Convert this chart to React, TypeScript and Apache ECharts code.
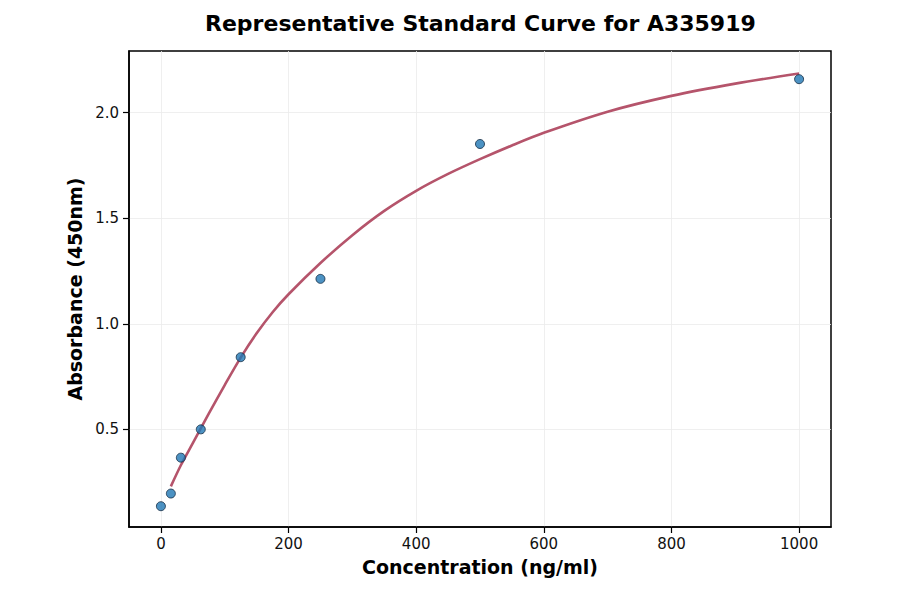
import { useEffect, useRef } from "react";
import * as echarts from "echarts";

// Standards measured (ng/ml) and their absorbance at 450nm
const concentrations = [0, 15.6, 31.25, 62.5, 125, 250, 500, 1000];
const absorbances = [0.136, 0.196, 0.366, 0.5, 0.842, 1.213, 1.852, 2.159];

// Fitted curve
const curveX = [15.6, 31.25, 50, 75, 100, 125, 150, 175, 200, 250, 300, 350, 400, 450, 500, 550, 600, 700, 800, 900, 1000];
const curveY = [0.23, 0.33, 0.435, 0.575, 0.71, 0.84, 0.955, 1.055, 1.14, 1.288, 1.42, 1.535, 1.63, 1.71, 1.78, 1.845, 1.905, 2.005, 2.08, 2.138, 2.186];

const xTicks = [0, 200, 400, 600, 800, 1000];
const yTicks = [0.5, 1.0, 1.5, 2.0];

const FONT = '"DejaVu Sans", Verdana, sans-serif';

export default function App() {
  const chartRef = useRef<HTMLDivElement>(null);

  useEffect(() => {
    if (!chartRef.current) return;
    const chart = echarts.init(chartRef.current, null, { renderer: "svg" });

    const gridLine = { show: true, lineStyle: { color: "#ebebeb", width: 0.8 } };

    const option = {
      animation: false,
      backgroundColor: "#ffffff",
      textStyle: { fontFamily: FONT },
      title: {
        text: "Representative Standard Curve for A335919",
        left: 200,
        top: 7,
        textStyle: { fontFamily: FONT, fontSize: 22, fontWeight: "bold", color: "#000" },
      },
      grid: {
        left: 129,
        top: 51,
        width: 702,
        height: 476,
        show: true,
        borderColor: "#000",
        borderWidth: 1.5,
        backgroundColor: "transparent",
      },
      xAxis: {
        type: "value",
        min: -50,
        max: 1050,
        name: "Concentration (ng/ml)",
        nameLocation: "middle",
        nameGap: 30,
        nameTextStyle: { fontFamily: FONT, fontSize: 19, fontWeight: "bold", color: "#000" },
        axisLine: { show: true, onZero: false, lineStyle: { color: "#000", width: 1.5 } },
        axisTick: { show: true, length: 6, customValues: xTicks, lineStyle: { color: "#000", width: 1.2 } },
        axisLabel: {
          customValues: xTicks,
          fontFamily: FONT,
          fontSize: 15,
          color: "#111",
          margin: 9,
          formatter: (v: number) => String(v),
        },
        splitLine: gridLine,
      },
      yAxis: {
        type: "value",
        min: 0.0375,
        max: 2.2925,
        name: "Absorbance (450nm)",
        nameLocation: "middle",
        nameGap: 43,
        nameTextStyle: { fontFamily: FONT, fontSize: 19, fontWeight: "bold", color: "#000" },
        axisLine: { show: true, onZero: false, lineStyle: { color: "#000", width: 1.5 } },
        axisTick: { show: true, length: 6, customValues: yTicks, lineStyle: { color: "#000", width: 1.2 } },
        axisLabel: {
          customValues: yTicks,
          fontFamily: FONT,
          fontSize: 15,
          color: "#111",
          margin: 10,
          formatter: (v: number) => v.toFixed(1),
        },
        splitLine: gridLine,
      },
      series: [
        {
          name: "Fit",
          type: "line",
          data: curveX.map((x, i) => [x, curveY[i]]),
          smooth: 0.3,
          showSymbol: false,
          lineStyle: { color: "#b5546b", width: 2.6 },
          z: 2,
        },
        {
          name: "Standards",
          type: "scatter",
          data: concentrations.map((x, i) => [x, absorbances[i]]),
          symbolSize: 9,
          itemStyle: { color: "#1f77b4", borderColor: "#142c44", borderWidth: 1 },
          z: 3,
        },
      ],
    };

    chart.setOption(option);
    return () => chart.dispose();
  }, []);

  return (
    <div
      ref={chartRef}
      style={{ position: "fixed", left: 0, top: 0, width: "900px", height: "594px" }}
    ></div>
  );
}
